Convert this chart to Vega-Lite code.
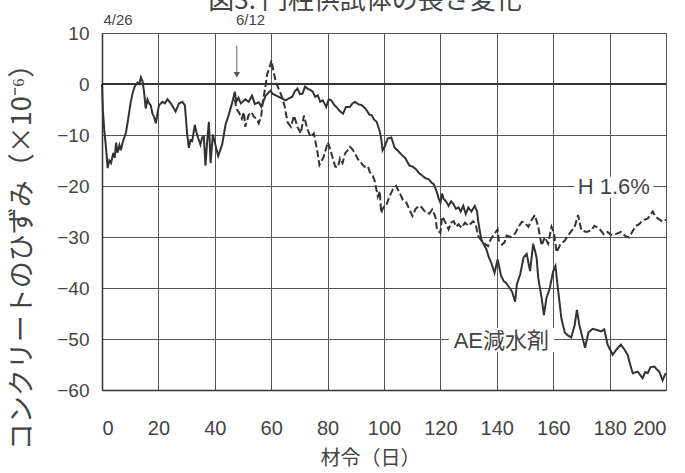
{
  "$schema": "https://vega.github.io/schema/vega-lite/v6.json",
  "autosize": {"type": "none"},
  "width": 564,
  "height": 357,
  "padding": {"left": 102, "top": 33, "right": 19, "bottom": 83},
  "background": "white",
  "title": {"text": "図3. 円柱供試体の長さ変化", "font": "Noto Sans CJK JP", "fontSize": 26, "fontWeight": "normal", "color": "#444", "anchor": "middle", "offset": -27, "dx": -19, "baseline": "bottom"},
  "config": {
    "view": {"stroke": "#888", "strokeWidth": 1},
    "axis": {"grid": true, "gridColor": "#555", "gridWidth": 1, "gridOpacity": 1, "ticks": false, "domainColor": "#333", "domainWidth": 1.5, "labelColor": "#444", "titleColor": "#444", "labelFont": "Liberation Sans", "titleFont": "Noto Sans CJK JP", "titleFontWeight": "normal"}
  },
  "datasets": {
    "curves": [
      {"series":"AE","day":0,"val":0},{"series":"AE","day":0.3,"val":-5},{"series":"AE","day":0.8,"val":-9},{"series":"AE","day":1.5,"val":-13},{"series":"AE","day":2,"val":-16.5},{"series":"AE","day":2.6,"val":-15},{"series":"AE","day":3.2,"val":-15.5},{"series":"AE","day":4,"val":-13.5},{"series":"AE","day":4.5,"val":-14.5},{"series":"AE","day":5,"val":-11.5},{"series":"AE","day":5.5,"val":-13.5},{"series":"AE","day":6.2,"val":-12},{"series":"AE","day":6.7,"val":-13},{"series":"AE","day":7.3,"val":-11.5},{"series":"AE","day":7.9,"val":-10.5},{"series":"AE","day":8.5,"val":-9.5},{"series":"AE","day":9.1,"val":-7.5},{"series":"AE","day":10.2,"val":-3.5},{"series":"AE","day":11,"val":-1.5},{"series":"AE","day":11.6,"val":-0.5},{"series":"AE","day":12.6,"val":0.3},{"series":"AE","day":13.2,"val":0},{"series":"AE","day":13.8,"val":1.3},{"series":"AE","day":14.4,"val":0.5},{"series":"AE","day":14.9,"val":-1.5},{"series":"AE","day":15.5,"val":-4.8},{"series":"AE","day":16.1,"val":-3},{"series":"AE","day":16.7,"val":-3.8},{"series":"AE","day":17.3,"val":-4.2},{"series":"AE","day":17.9,"val":-5.8},{"series":"AE","day":18.5,"val":-6.5},{"series":"AE","day":19.1,"val":-7.7},{"series":"AE","day":19.6,"val":-6},{"series":"AE","day":20.2,"val":-4.2},{"series":"AE","day":21.4,"val":-3.5},{"series":"AE","day":22.3,"val":-3.8},{"series":"AE","day":23.2,"val":-3},{"series":"AE","day":24.4,"val":-3.8},{"series":"AE","day":25.2,"val":-4.5},{"series":"AE","day":26.1,"val":-5.4},{"series":"AE","day":27.3,"val":-3.8},{"series":"AE","day":28.5,"val":-3.5},{"series":"AE","day":29.4,"val":-4.2},{"series":"AE","day":30.2,"val":-9.9},{"series":"AE","day":30.8,"val":-12.5},{"series":"AE","day":31.4,"val":-11},{"series":"AE","day":32,"val":-11.2},{"series":"AE","day":32.9,"val":-8},{"series":"AE","day":33.5,"val":-9.5},{"series":"AE","day":34.1,"val":-10.6},{"series":"AE","day":34.9,"val":-11.9},{"series":"AE","day":35.5,"val":-10.5},{"series":"AE","day":36.1,"val":-10.3},{"series":"AE","day":36.7,"val":-16},{"series":"AE","day":37.3,"val":-11.2},{"series":"AE","day":37.9,"val":-7.4},{"series":"AE","day":38.5,"val":-15.5},{"series":"AE","day":39.3,"val":-9.9},{"series":"AE","day":39.8,"val":-11},{"series":"AE","day":40.2,"val":-11.9},{"series":"AE","day":41.2,"val":-14.1},{"series":"AE","day":42.6,"val":-11.9},{"series":"AE","day":43.8,"val":-8},{"series":"AE","day":44.9,"val":-6.1},{"series":"AE","day":46.1,"val":-3.8},{"series":"AE","day":47.1,"val":-1.5},{"series":"AE","day":47.6,"val":-3.5},{"series":"AE","day":48.4,"val":-2.7},{"series":"AE","day":49.2,"val":-3.8},{"series":"AE","day":50.8,"val":-3},{"series":"AE","day":52,"val":-3.5},{"series":"AE","day":53.2,"val":-2.3},{"series":"AE","day":54.2,"val":-3.9},{"series":"AE","day":55.6,"val":-3.6},{"series":"AE","day":56.5,"val":-4.5},{"series":"AE","day":58,"val":-2.3},{"series":"AE","day":59.8,"val":-1.3},{"series":"AE","day":60.4,"val":-1.9},{"series":"AE","day":65.2,"val":-3.2},{"series":"AE","day":66.3,"val":-2.8},{"series":"AE","day":67.5,"val":-2.5},{"series":"AE","day":68.3,"val":-1.5},{"series":"AE","day":69.3,"val":-0.9},{"series":"AE","day":70.2,"val":-2},{"series":"AE","day":71.1,"val":-1.9},{"series":"AE","day":72,"val":-0.5},{"series":"AE","day":72.9,"val":-0.9},{"series":"AE","day":74,"val":-1.2},{"series":"AE","day":74.7,"val":-1.5},{"series":"AE","day":75.6,"val":-2.5},{"series":"AE","day":76.5,"val":-2.2},{"series":"AE","day":77.4,"val":-3.5},{"series":"AE","day":78.3,"val":-3.2},{"series":"AE","day":79.5,"val":-4.5},{"series":"AE","day":80.4,"val":-3},{"series":"AE","day":81.3,"val":-3.2},{"series":"AE","day":82.2,"val":-4},{"series":"AE","day":83.1,"val":-4.5},{"series":"AE","day":84.3,"val":-5.3},{"series":"AE","day":85.5,"val":-5.8},{"series":"AE","day":86.5,"val":-4.5},{"series":"AE","day":87.9,"val":-4.5},{"series":"AE","day":88.8,"val":-3.8},{"series":"AE","day":89.7,"val":-3.5},{"series":"AE","day":91,"val":-4},{"series":"AE","day":92,"val":-4.1},{"series":"AE","day":93,"val":-4.6},{"series":"AE","day":93.8,"val":-5.1},{"series":"AE","day":94.8,"val":-6},{"series":"AE","day":95.6,"val":-6.1},{"series":"AE","day":96.5,"val":-7},{"series":"AE","day":97.4,"val":-7.4},{"series":"AE","day":98.4,"val":-9.1},{"series":"AE","day":99,"val":-10.7},{"series":"AE","day":99.5,"val":-13},{"series":"AE","day":100.3,"val":-12.2},{"series":"AE","day":101.3,"val":-10.7},{"series":"AE","day":102.6,"val":-10.5},{"series":"AE","day":103.8,"val":-12.5},{"series":"AE","day":104.8,"val":-13},{"series":"AE","day":106.1,"val":-13.8},{"series":"AE","day":107.5,"val":-14.5},{"series":"AE","day":109,"val":-16},{"series":"AE","day":110.2,"val":-16.2},{"series":"AE","day":111.3,"val":-16.7},{"series":"AE","day":112.5,"val":-17.5},{"series":"AE","day":113.6,"val":-18},{"series":"AE","day":114.8,"val":-18.5},{"series":"AE","day":115.9,"val":-18.7},{"series":"AE","day":116.8,"val":-19.3},{"series":"AE","day":117.7,"val":-19.7},{"series":"AE","day":118.8,"val":-21.3},{"series":"AE","day":119.4,"val":-22.5},{"series":"AE","day":120,"val":-23.3},{"series":"AE","day":120.6,"val":-21.5},{"series":"AE","day":121.2,"val":-22.6},{"series":"AE","day":122,"val":-23},{"series":"AE","day":122.9,"val":-23.9},{"series":"AE","day":123.8,"val":-23},{"series":"AE","day":124.7,"val":-23.6},{"series":"AE","day":125.5,"val":-24.5},{"series":"AE","day":126.4,"val":-24.2},{"series":"AE","day":127.2,"val":-25},{"series":"AE","day":128.1,"val":-23.9},{"series":"AE","day":129,"val":-25.5},{"series":"AE","day":129.9,"val":-24.2},{"series":"AE","day":131,"val":-25},{"series":"AE","day":132.2,"val":-23.9},{"series":"AE","day":133,"val":-25},{"series":"AE","day":133.4,"val":-26.9},{"series":"AE","day":134.5,"val":-30.5},{"series":"AE","day":135.4,"val":-31.5},{"series":"AE","day":136.3,"val":-32.4},{"series":"AE","day":137.2,"val":-34},{"series":"AE","day":138,"val":-35},{"series":"AE","day":139.2,"val":-37},{"series":"AE","day":140.3,"val":-34.4},{"series":"AE","day":141.5,"val":-37.6},{"series":"AE","day":142.5,"val":-38.7},{"series":"AE","day":143.3,"val":-39},{"series":"AE","day":144.2,"val":-39.7},{"series":"AE","day":145.4,"val":-40.7},{"series":"AE","day":146.5,"val":-42.7},{"series":"AE","day":147.1,"val":-39.3},{"series":"AE","day":148.3,"val":-37.3},{"series":"AE","day":149.5,"val":-34},{"series":"AE","day":150.6,"val":-33.3},{"series":"AE","day":151.8,"val":-36.7},{"series":"AE","day":152.9,"val":-31.3},{"series":"AE","day":154.1,"val":-34},{"series":"AE","day":154.7,"val":-38},{"series":"AE","day":155.9,"val":-42},{"series":"AE","day":156.7,"val":-45.3},{"series":"AE","day":157.6,"val":-42},{"series":"AE","day":158.8,"val":-40},{"series":"AE","day":160,"val":-36.7},{"series":"AE","day":160.8,"val":-35.7},{"series":"AE","day":161.8,"val":-40.7},{"series":"AE","day":162.9,"val":-46},{"series":"AE","day":164.1,"val":-48.7},{"series":"AE","day":165.2,"val":-49.3},{"series":"AE","day":166.4,"val":-49.7},{"series":"AE","day":167.6,"val":-47.3},{"series":"AE","day":168.4,"val":-44.3},{"series":"AE","day":169.3,"val":-47.3},{"series":"AE","day":170.5,"val":-50},{"series":"AE","day":171.3,"val":-51.7},{"series":"AE","day":172.5,"val":-48.7},{"series":"AE","day":174,"val":-48},{"series":"AE","day":175.8,"val":-48.3},{"series":"AE","day":177,"val":-48.5},{"series":"AE","day":178.1,"val":-48.1},{"series":"AE","day":179.3,"val":-51.1},{"series":"AE","day":181.1,"val":-53.1},{"series":"AE","day":182.5,"val":-52},{"series":"AE","day":184,"val":-51.1},{"series":"AE","day":185.2,"val":-52},{"series":"AE","day":186.4,"val":-53.1},{"series":"AE","day":187.3,"val":-55},{"series":"AE","day":188.2,"val":-56.7},{"series":"AE","day":190,"val":-56.4},{"series":"AE","day":191.7,"val":-57.7},{"series":"AE","day":192.6,"val":-56.5},{"series":"AE","day":193.5,"val":-56.7},{"series":"AE","day":194.5,"val":-55.5},{"series":"AE","day":195.9,"val":-55.4},{"series":"AE","day":196.8,"val":-56},{"series":"AE","day":197.6,"val":-56.4},{"series":"AE","day":198.8,"val":-58.1},{"series":"AE","day":199.9,"val":-56.7},
      {"series":"H","day":47.1,"val":-3},{"series":"H","day":47.6,"val":-4.8},{"series":"H","day":48.5,"val":-5.5},{"series":"H","day":49.6,"val":-6.8},{"series":"H","day":50.3,"val":-5.5},{"series":"H","day":50.8,"val":-8.4},{"series":"H","day":52,"val":-6.1},{"series":"H","day":53,"val":-5.5},{"series":"H","day":53.8,"val":-6.4},{"series":"H","day":54.8,"val":-6.8},{"series":"H","day":55.6,"val":-7.7},{"series":"H","day":56.5,"val":-6.1},{"series":"H","day":57,"val":-3.5},{"series":"H","day":57.8,"val":-1},{"series":"H","day":58.6,"val":2},{"series":"H","day":59.3,"val":3},{"series":"H","day":60.1,"val":4.6},{"series":"H","day":60.8,"val":2.5},{"series":"H","day":61.7,"val":0.3},{"series":"H","day":62.9,"val":-1.3},{"series":"H","day":63.8,"val":-2.5},{"series":"H","day":64.7,"val":-4.2},{"series":"H","day":65.8,"val":-7.5},{"series":"H","day":67,"val":-8.4},{"series":"H","day":68.1,"val":-6.2},{"series":"H","day":69.3,"val":-8.4},{"series":"H","day":70.5,"val":-9.7},{"series":"H","day":71.6,"val":-6.2},{"series":"H","day":72.8,"val":-8.8},{"series":"H","day":74,"val":-10.4},{"series":"H","day":75.1,"val":-9.7},{"series":"H","day":76.3,"val":-13},{"series":"H","day":77.1,"val":-15.9},{"series":"H","day":78.6,"val":-14.3},{"series":"H","day":80.1,"val":-11.4},{"series":"H","day":80.9,"val":-12.7},{"series":"H","day":81.8,"val":-14.5},{"series":"H","day":82.7,"val":-16.2},{"series":"H","day":83.7,"val":-16.3},{"series":"H","day":84.4,"val":-14.6},{"series":"H","day":85.3,"val":-15.5},{"series":"H","day":86.2,"val":-13.6},{"series":"H","day":87.1,"val":-13},{"series":"H","day":87.9,"val":-12.3},{"series":"H","day":88.8,"val":-12.8},{"series":"H","day":89.7,"val":-13.6},{"series":"H","day":90.8,"val":-14.8},{"series":"H","day":91.4,"val":-14.9},{"series":"H","day":92.3,"val":-15.8},{"series":"H","day":93.1,"val":-16.2},{"series":"H","day":94.3,"val":-16.1},{"series":"H","day":94.9,"val":-17.2},{"series":"H","day":96,"val":-18},{"series":"H","day":96.7,"val":-19},{"series":"H","day":97.8,"val":-22.1},{"series":"H","day":98.5,"val":-21},{"series":"H","day":99,"val":-25.3},{"series":"H","day":99.5,"val":-24.5},{"series":"H","day":100.1,"val":-24},{"series":"H","day":100.8,"val":-23.8},{"series":"H","day":101.9,"val":-22.1},{"series":"H","day":103.2,"val":-20.6},{"series":"H","day":104.3,"val":-20},{"series":"H","day":105.5,"val":-21.3},{"series":"H","day":106.6,"val":-22.6},{"series":"H","day":107.9,"val":-23.2},{"series":"H","day":109,"val":-24.6},{"series":"H","day":110.1,"val":-25.9},{"series":"H","day":111.2,"val":-24.5},{"series":"H","day":112.4,"val":-23.9},{"series":"H","day":113.2,"val":-24.1},{"series":"H","day":114.8,"val":-25.2},{"series":"H","day":116.1,"val":-25.4},{"series":"H","day":117.1,"val":-24.6},{"series":"H","day":118.2,"val":-26},{"series":"H","day":118.8,"val":-28.5},{"series":"H","day":120,"val":-29.2},{"series":"H","day":120.6,"val":-26},{"series":"H","day":121.2,"val":-26.5},{"series":"H","day":122.9,"val":-28.5},{"series":"H","day":123.8,"val":-27.2},{"series":"H","day":124.7,"val":-26.9},{"series":"H","day":125.6,"val":-28},{"series":"H","day":126.4,"val":-27.5},{"series":"H","day":127.5,"val":-28.2},{"series":"H","day":128.7,"val":-27.2},{"series":"H","day":130,"val":-27.8},{"series":"H","day":131.6,"val":-26.9},{"series":"H","day":132.5,"val":-27.5},{"series":"H","day":133.4,"val":-29.8},{"series":"H","day":135.1,"val":-31.1},{"series":"H","day":136.9,"val":-31.8},{"series":"H","day":137.8,"val":-30.5},{"series":"H","day":138.6,"val":-29.8},{"series":"H","day":140.3,"val":-28.5},{"series":"H","day":140.7,"val":-30.7},{"series":"H","day":141.8,"val":-31.5},{"series":"H","day":142.7,"val":-31.1},{"series":"H","day":143.5,"val":-29.7},{"series":"H","day":144.8,"val":-30},{"series":"H","day":146.5,"val":-29.3},{"series":"H","day":147.7,"val":-28},{"series":"H","day":148.9,"val":-27},{"series":"H","day":150,"val":-27.3},{"series":"H","day":151.2,"val":-28},{"series":"H","day":152.3,"val":-26.7},{"series":"H","day":153.5,"val":-25.7},{"series":"H","day":154.7,"val":-28},{"series":"H","day":155.9,"val":-31.7},{"series":"H","day":157,"val":-30},{"series":"H","day":158.2,"val":-31.3},{"series":"H","day":159.4,"val":-28},{"series":"H","day":160.3,"val":-29.3},{"series":"H","day":161.2,"val":-33},{"series":"H","day":162.3,"val":-31.7},{"series":"H","day":164.1,"val":-30.7},{"series":"H","day":165.8,"val":-29.3},{"series":"H","day":167.6,"val":-28},{"series":"H","day":168.8,"val":-25.7},{"series":"H","day":170,"val":-28.7},{"series":"H","day":171.8,"val":-29},{"series":"H","day":173.5,"val":-28.7},{"series":"H","day":174.6,"val":-27.8},{"series":"H","day":175.3,"val":-28},{"series":"H","day":176.5,"val":-28.5},{"series":"H","day":178,"val":-29.5},{"series":"H","day":179.3,"val":-29},{"series":"H","day":180.5,"val":-29.6},{"series":"H","day":182,"val":-29.5},{"series":"H","day":184,"val":-29},{"series":"H","day":185.5,"val":-29.8},{"series":"H","day":186.9,"val":-30.1},{"series":"H","day":188,"val":-29},{"series":"H","day":189.3,"val":-27.8},{"series":"H","day":190.5,"val":-27.5},{"series":"H","day":191.7,"val":-26.7},{"series":"H","day":193.5,"val":-26.4},{"series":"H","day":195.3,"val":-25},{"series":"H","day":196.2,"val":-26},{"series":"H","day":197,"val":-26.3},{"series":"H","day":198.8,"val":-27},{"series":"H","day":200,"val":-26.6}
    ],
    "zero": [{"val": 0}],
    "boxes": [
      {"day": 167.5, "day2": 195.5, "val": -18.2, "val2": -22.3},
      {"day": 123, "day2": 160.3, "val": -47.8, "val2": -52.6}
    ],
    "labels": [
      {"label": "H 1.6%", "day": 181.5, "val": -20.2},
      {"label": "AE減水剤", "day": 141.6, "val": -50.3}
    ],
    "dates": [
      {"label": "4/26", "day": 0.5, "val": 10},
      {"label": "6/12", "day": 47.5, "val": 10}
    ],
    "arrow": [{"day": 47.8, "val": 7.5, "val2": 1.5}],
    "arrowhead": [{"day": 47.8, "val": 1.8}]
  },
  "encoding": {
    "x": {"field": "day", "type": "quantitative", "scale": {"domain": [0, 200], "nice": false}, "axis": {"values": [0,20,40,60,80,100,120,140,160,180,200], "labelFontSize": 20, "labelPadding": 28, "title": "材令（日）", "titleFontSize": 20, "titlePadding": 10, "titleX": 268}},
    "y": {"field": "val", "type": "quantitative", "scale": {"domain": [-60, 10], "nice": false, "zero": false}, "axis": {"values": [-60,-50,-40,-30,-20,-10,0,10], "labelFontSize": 19, "labelPadding": 13, "title": "コンクリートのひずみ（×10⁻⁶）", "titleFontSize": 27, "titleX": -66, "titleY": 217}}
  },
  "layer": [
    {"data": {"name": "zero"}, "mark": {"type": "rule", "color": "#333", "strokeWidth": 2}, "encoding": {"x": null}},
    {"data": {"name": "curves"}, "transform": [{"filter": "datum.series == 'AE'"}], "mark": {"type": "line", "color": "#333", "strokeWidth": 2, "interpolate": "linear"}},
    {"data": {"name": "curves"}, "transform": [{"filter": "datum.series == 'H'"}], "mark": {"type": "line", "color": "#333", "strokeWidth": 2, "strokeDash": [7, 3]}},
    {"data": {"name": "boxes"}, "mark": {"type": "rect", "color": "white"}, "encoding": {"x2": {"field": "day2"}, "y2": {"field": "val2"}}},
    {"data": {"name": "labels"}, "mark": {"type": "text", "font": "Liberation Sans, Noto Sans CJK JP", "fontSize": 22, "color": "#444", "baseline": "middle", "align": "center"}, "encoding": {"text": {"field": "label"}}},
    {"data": {"name": "dates"}, "mark": {"type": "text", "font": "Liberation Sans", "fontSize": 15, "color": "#444", "baseline": "bottom", "align": "left", "dy": -5}, "encoding": {"text": {"field": "label"}}},
    {"data": {"name": "arrow"}, "mark": {"type": "rule", "color": "#666", "strokeWidth": 1}, "encoding": {"y2": {"field": "val2"}}},
    {"data": {"name": "arrowhead"}, "mark": {"type": "point", "shape": "triangle-down", "filled": true, "color": "#555", "size": 40, "opacity": 1}}
  ]
}
